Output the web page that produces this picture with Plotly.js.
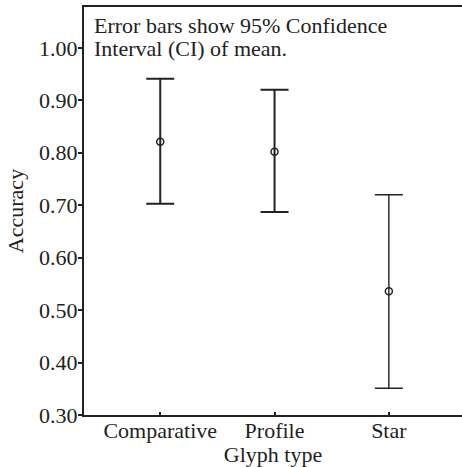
<!DOCTYPE html>
<html>
<head>
<meta charset="utf-8">
<script src="https://cdn.plot.ly/plotly-3.0.1.min.js"></script>
<style>html,body{margin:0;padding:0;background:#fff;}</style>
</head>
<body>
<div id="chart" style="width:462px;height:467px;"></div>
<script>
const categories = ["Comparative", "Profile", "Star"];
const means = [0.821, 0.802, 0.536];
const upperCI = [0.941, 0.920, 0.720];
const lowerCI = [0.703, 0.687, 0.351];
const barThickness = [2, 2, 1.4];
const yTickVals = [0.30, 0.40, 0.50, 0.60, 0.70, 0.80, 0.90, 1.00];
const noteLines = ["Error bars show 95% Confidence", "Interval (CI) of mean."];

const ink = "#222222";
const font = {family: "Liberation Serif", size: 22, color: ink};

const traces = categories.map((c, i) => ({
  type: "scatter",
  mode: "markers",
  x: [c],
  y: [means[i]],
  marker: {symbol: "circle-open", size: 7, color: ink, line: {width: 1.5, color: ink}},
  error_y: {
    type: "data",
    symmetric: false,
    array: [upperCI[i] - means[i]],
    arrayminus: [means[i] - lowerCI[i]],
    color: ink,
    thickness: barThickness[i],
    width: 14
  },
  showlegend: false,
  hoverinfo: "skip"
}));

const layout = {
  width: 462,
  height: 467,
  margin: {l: 84, r: 0, t: 7, b: 52},
  paper_bgcolor: "#ffffff",
  plot_bgcolor: "#ffffff",
  font: font,
  showlegend: false,
  xaxis: {
    type: "category",
    categoryarray: categories,
    range: [-0.667, 2.64],
    showline: true,
    mirror: true,
    linecolor: ink,
    linewidth: 2,
    showgrid: false,
    zeroline: false,
    ticks: "inside",
    ticklen: 3,
    tickwidth: 2,
    tickcolor: ink,
    tickfont: font,
    ticklabelstandoff: -5,
    title: {text: "Glyph type", font: font, standoff: 0},
    automargin: false
  },
  yaxis: {
    range: [0.30, 1.078],
    tickvals: yTickVals,
    ticktext: yTickVals.map(v => v.toFixed(2)),
    showline: true,
    linecolor: ink,
    linewidth: 2,
    showgrid: false,
    zeroline: false,
    ticks: "outside",
    ticklen: 4,
    tickwidth: 2,
    tickcolor: ink,
    tickfont: font,
    ticklabelstandoff: -4,
    title: {text: "Accuracy", font: font, standoff: 9},
    automargin: false
  },
  annotations: noteLines.map((t, i) => ({
    xref: "paper", yref: "paper",
    x: 0.022, y: i === 0 ? 0.954 : 0.8995,
    xanchor: "left", yanchor: "middle",
    align: "left",
    showarrow: false,
    text: t,
    font: font
  }))
};

Plotly.newPlot("chart", traces, layout, {displayModeBar: false, staticPlot: true});
</script>
</body>
</html>
